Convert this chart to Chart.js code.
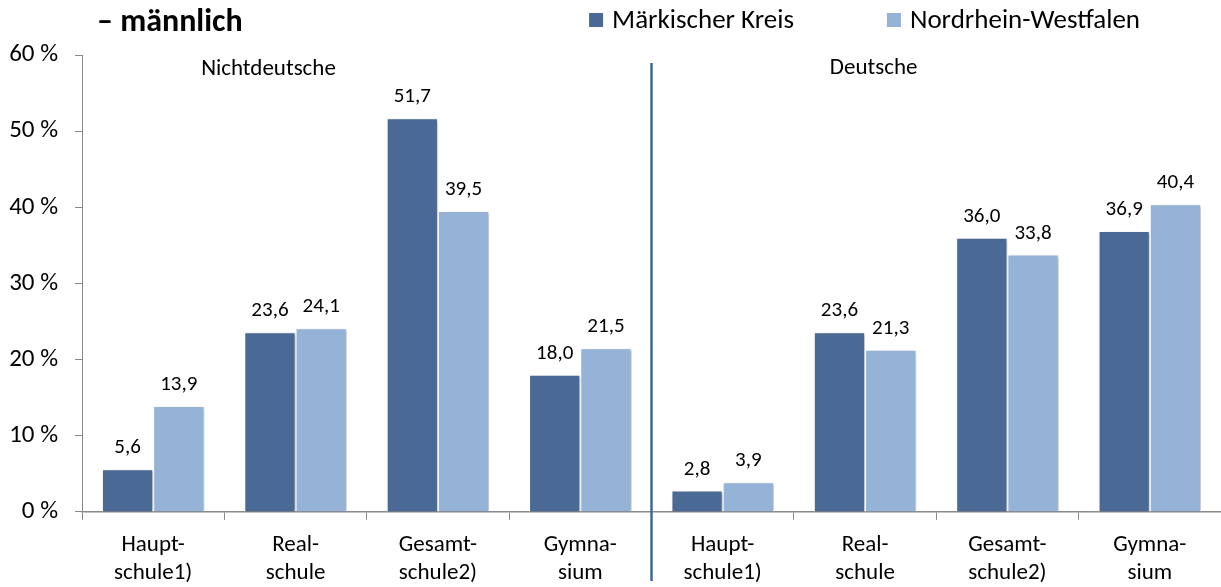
<!DOCTYPE html>
<html lang="de">
<head>
<meta charset="utf-8">
<title>Schulformen – männlich</title>
<script src="https://cdn.jsdelivr.net/npm/chart.js@4.4.1/dist/chart.umd.min.js"></script>
<style>
  html, body { margin: 0; padding: 0; background: #fff; }
  #wrap { width: 1221px; height: 587px; position: relative; }
</style>
</head>
<body>
<div id="wrap"><canvas id="schulChart"></canvas></div>
<script>
// Daten
const kategorien = [
  ['Haupt-', 'schule1)'], ['Real-', 'schule'], ['Gesamt-', 'schule2)'], ['Gymna-', 'sium'],
  ['Haupt-', 'schule1)'], ['Real-', 'schule'], ['Gesamt-', 'schule2)'], ['Gymna-', 'sium']
];
const serienNamen = ['Märkischer Kreis', 'Nordrhein-Westfalen'];
const werteMK = [5.6, 23.6, 51.7, 18.0, 2.8, 23.6, 36.0, 36.9];
const werteNRW = [13.9, 24.1, 39.5, 21.5, 3.9, 21.3, 33.8, 40.4];
const gruppen = ['Nichtdeutsche', 'Deutsche'];
const titelText = '– männlich';
const yMax = 60;
const ySchritt = 10;

const farben = ['#4a6a95', '#95b3d7'];
const schrift = 'Carlito, Lato, sans-serif';

document.addEventListener('DOMContentLoaded', function () {
  // Beschriftungen, Trennlinie, Titel und Legende
  const extras = {
    id: 'extras',
    beforeDatasetsDraw(chart) {
      const ctx = chart.ctx;
      ctx.save();
      ctx.shadowColor = 'rgba(0, 0, 0, 0.28)';
      ctx.shadowBlur = 3;
      ctx.shadowOffsetX = 2;
      ctx.shadowOffsetY = 1;
    },
    afterDatasetsDraw(chart) {
      const ctx = chart.ctx;
      ctx.restore();
      const x = chart.scales.x;

      // Werte ueber den Balken
      ctx.save();
      ctx.fillStyle = '#000';
      ctx.font = '21px ' + schrift;
      ctx.textAlign = 'center';
      ctx.textBaseline = 'alphabetic';
      chart.data.datasets.forEach((ds, i) => {
        chart.getDatasetMeta(i).data.forEach((bar, j) => {
          ctx.fillText(ds.data[j].toFixed(1).replace('.', ','), bar.x, bar.y - 16);
        });
      });

      // Trennlinie zwischen den Gruppen
      const xt = x.getPixelForValue(3.5);
      ctx.strokeStyle = '#41679a';
      ctx.lineWidth = 2.5;
      ctx.beginPath();
      ctx.moveTo(xt, chart.chartArea.top + 8);
      ctx.lineTo(xt, chart.height - 6);
      ctx.stroke();

      // Gruppennamen
      ctx.font = '23px ' + schrift;
      ctx.fillText(gruppen[0], x.getPixelForValue(0.81), 75);
      ctx.fillText(gruppen[1], x.getPixelForValue(5.06), 74);

      // Titel
      ctx.textAlign = 'left';
      ctx.font = 'bold 32px ' + schrift;
      ctx.fillText(titelText, 97, 31);

      // Legende (rechtsbuendig)
      ctx.font = '27px ' + schrift;
      let rechts = 1140;
      for (let i = serienNamen.length - 1; i >= 0; i--) {
        const w = ctx.measureText(serienNamen[i]).width;
        const tx = rechts - w;
        ctx.fillStyle = '#000';
        ctx.fillText(serienNamen[i], tx, 28);
        ctx.fillStyle = farben[i];
        ctx.fillRect(tx - 23, 13, 14, 14);
        rechts = tx - 23 - 93;
      }
      ctx.restore();
    }
  };

  const ctx = document.getElementById('schulChart').getContext('2d');
  new Chart(ctx, {
    type: 'bar',
    data: {
      labels: kategorien,
      datasets: [
        {
          label: serienNamen[0],
          data: werteMK,
          backgroundColor: farben[0],
          borderColor: 'rgba(255, 255, 255, 0.95)',
          borderWidth: 1,
          categoryPercentage: 0.72,
          barPercentage: 1,
        },
        {
          label: serienNamen[1],
          data: werteNRW,
          backgroundColor: farben[1],
          borderColor: 'rgba(255, 255, 255, 0.95)',
          borderWidth: 1,
          categoryPercentage: 0.72,
          barPercentage: 1,
        }
      ]
    },
    options: {
      responsive: true,
      maintainAspectRatio: false,
      animation: false,
      layout: {
        padding: { top: 55, right: 0, bottom: -11, left: 0 }
      },
      scales: {
        y: {
          min: 0,
          max: yMax,
          afterFit(scale) { scale.width = 82; },
          ticks: {
            stepSize: ySchritt,
            padding: 17,
            color: '#000',
            font: { size: 25, family: schrift },
            callback: v => v + ' %'
          },
          grid: {
            drawOnChartArea: false,
            tickLength: 7,
            color: '#898989',
          },
          border: { color: '#898989', width: 1 }
        },
        x: {
          ticks: {
            color: '#000',
            padding: 11,
            maxRotation: 0,
            autoSkip: false,
            font: { size: 23, family: schrift, lineHeight: 1.22 }
          },
          grid: {
            drawOnChartArea: false,
            tickLength: 8,
            color: '#898989',
          },
          border: { color: '#898989', width: 1.5 }
        }
      },
      plugins: {
        legend: { display: false },
        title: { display: false },
        tooltip: { enabled: false }
      }
    },
    plugins: [extras]
  });
});
</script>
</body>
</html>
